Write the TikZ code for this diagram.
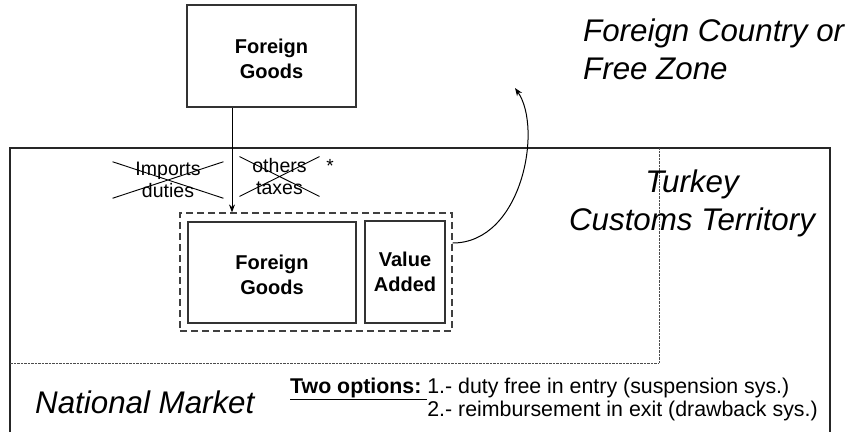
\documentclass[tikz,border=0pt]{standalone}
\usepackage{fontspec}
\setmainfont{Liberation Sans}
\usetikzlibrary{arrows.meta,shapes.misc}
\newcommand{\lowstrut}{\rule{0pt}{20pt}}
\tikzset{
  box/.style={draw=black!80, line width=1.3pt, inner sep=0pt, align=center,
    font=\bfseries\fontsize{20}{25}\selectfont},
  dashbox/.style={draw=black!75, line width=1.2pt, dash pattern=on 7pt off 4pt, inner sep=0pt},
  bigtext/.style={font=\itshape\fontsize{31.3}{38}\selectfont, inner sep=0pt},
  crossed/.style={cross out, draw=black, line width=0.9pt, inner sep=0pt, align=center,
    font=\fontsize{19.5}{22}\selectfont},
  border/.style={draw=black!85, line width=1.2pt},
  dotline/.style={draw=black!70, line width=0.6pt, dash pattern=on 0.7pt off 0.7pt},
  link/.style={draw=black, line width=1pt, -{Stealth[length=8pt,width=6pt]}}
}
\begin{document}
\begin{tikzpicture}[x=1pt,y=-1pt]
\useasboundingbox (0,0) rectangle (853,432);

% territory borders
\path[border] (10,432) -- (10,148) -- (830,148) -- (830,432);
\path[dotline] (659,148) -- (659,363) -- (10,363);

% top foreign goods
\node[box, minimum width=169pt, minimum height=102pt] (fgtop) at (271.5,56) {\lowstrut Foreign\\Goods};

% dashed group and inner boxes
\node[dashbox, minimum width=272pt, minimum height=118pt] (outer) at (316,272) {};
\node[box, minimum width=168pt, minimum height=101pt] (fgin) at (272,272.5) {\lowstrut Foreign\\Goods};
\node[box, minimum width=80pt, minimum height=102pt] (va) at (405,272) {Value\\Added};

% entry arrow
\coordinate (ax) at (232,0);
\draw[link] (ax |- fgtop.south) -- (ax |- outer.north);

% exit arrow
\coordinate (exitpt) at (515,88);
\draw[link] ([yshift=29pt]outer.east) .. controls (522,243) and (543,128) .. (exitpt);

% crossed taxes
\node[crossed, minimum width=110pt, minimum height=34pt] (imp) at (168,180) {Imports\\duties};
\node[crossed, minimum width=79pt, minimum height=39pt] (oth) at (279.5,176.5) {others\\taxes};
\node[font=\fontsize{19}{22}\selectfont, inner sep=0pt] (star) at (330,166) {*};

% region labels
\node[bigtext, align=left, anchor=north west] (fc) at (583,19) {Foreign Country or\\Free Zone};
\node[bigtext, align=center, anchor=north] (tk) at (692,170) {Turkey\\Customs Territory};
\node[bigtext, anchor=base west] (nm) at (35,413) {National Market};

% options
\node[anchor=base west, inner sep=0pt, font=\fontsize{21.35}{23}\selectfont] (opt) at (290,393)
  {\begin{tabular}[t]{@{}l@{}l@{}}
   \underline{\textbf{Two options:}\ } & 1.- duty free in entry (suspension sys.)\\
   & 2.- reimbursement in exit (drawback sys.)
   \end{tabular}};
\end{tikzpicture}
\end{document}
